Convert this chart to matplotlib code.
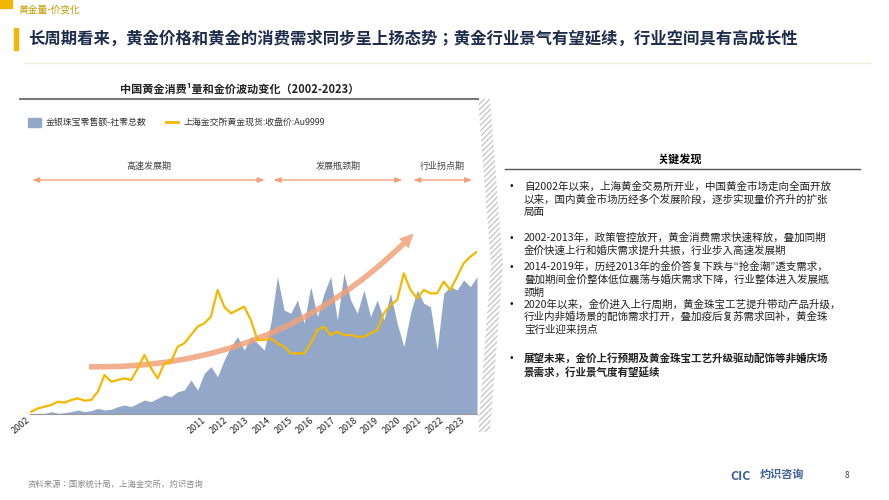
import matplotlib.pyplot as plt
from matplotlib.patches import FancyArrowPatch, Polygon, Rectangle
from matplotlib.lines import Line2D

plt.rcParams["font.family"] = ["Noto Sans CJK JP", "DejaVu Sans"]

# samples are evenly spaced along the chart's x axis (non-linear in time, as in the source)
gold_price = [7, 17, 22, 27, 37, 34, 42, 47, 40, 42, 67, 117, 97, 102, 107, 102, 137, 177,
              137, 107, 152, 157, 202, 212, 237, 262, 272, 292, 372, 322, 302, 312, 322, 282,
              222, 222, 227, 212, 202, 182, 182, 182, 212, 252, 262, 237, 247, 237, 237, 232,
              232, 242, 252, 302, 327, 342, 422, 372, 347, 372, 362, 362, 397, 372, 412, 452,
              472, 487]
jewelry_sales = [0, 2, 2, 7, 2, 4, 7, 12, 7, 10, 17, 12, 14, 22, 27, 22, 32, 42, 37, 47, 57,
                 52, 67, 72, 102, 72, 122, 142, 112, 162, 202, 232, 192, 232, 212, 192, 272,
                 412, 312, 302, 342, 272, 382, 292, 362, 412, 282, 422, 342, 302, 372, 292,
                 342, 282, 362, 272, 202, 302, 372, 332, 322, 192, 362, 382, 372, 402, 382, 412]
year_labels = ["2002", "2011", "2012", "2013", "2014", "2015", "2016", "2017", "2018",
               "2019", "2020", "2021", "2022", "2023"]
year_pos = [0, 26.5, 29.75, 33, 36.25, 39.5, 42.75, 46, 49.25, 52.5, 55.75, 59, 62.25, 65.5]

periods = ["高速发展期", "发展瓶颈期", "行业拐点期"]
period_span = [(-0.3, 35.5), (36.0, 56.2), (57.0, 66.7)]

bullets = [
    ("自2002年以来，上海黄金交易所开业，中国黄金市场走向全面开放\n以来，国内黄金市场历经多个发展阶段，逐步实现量价齐升的扩张\n局面", 181, "normal"),
    ("2002-2013年，政策管控放开，黄金消费需求快速释放，叠加同期\n金价快速上行和婚庆需求提升共振，行业步入高速发展期", 233, "normal"),
    ("2014-2019年，历经2013年的金价答复下跌与“抢金潮”透支需求，\n叠加期间金价整体低位震荡与婚庆需求下降，行业整体进入发展瓶\n颈期", 262, "normal"),
    ("2020年以来，金价进入上行周期，黄金珠宝工艺提升带动产品升级，\n行业内非婚场景的配饰需求打开，叠加疫后复苏需求回补，黄金珠\n宝行业迎来拐点", 299, "normal"),
    ("展望未来，金价上行预期及黄金珠宝工艺升级驱动配饰等非婚庆场\n景需求，行业景气度有望延续", 353, "bold"),
]

W, H = 889, 500
fig = plt.figure(figsize=(W / 100, H / 100), dpi=100)


def fx(px):
    return px / W


def fy(py):
    return 1 - py / H


# header
fig.patches.append(Rectangle((0, fy(8)), fx(12), 8 / H, transform=fig.transFigure, color="#f2b705"))
fig.text(fx(18), fy(10), "黄金量-价变化", fontsize=7, color="#c89a00", va="center")
fig.patches.append(Rectangle((fx(14), fy(50)), fx(4), 22 / H, transform=fig.transFigure, color="#f2b705"))
fig.text(fx(28), fy(39), "长周期看来，黄金价格和黄金的消费需求同步呈上扬态势；黄金行业景气有望延续，行业空间具有高成长性",
         fontsize=11.8, fontweight="bold", color="#1f2d4d", va="center")
fig.add_artist(Line2D([fx(24), fx(870)], [fy(63), fy(63)], color="#eeeedd", lw=1))

# chart title & rule
fig.text(fx(240), fy(89), "中国黄金消费¹量和金价波动变化（2002-2023）", fontsize=8, fontweight="bold",
         ha="center", va="center", color="#222222")
fig.add_artist(Line2D([fx(20), fx(478)], [fy(99), fy(99)], color="#777777", lw=1.5))

# hatched chevron
fig.patches.append(Polygon([(fx(478), fy(99)), (fx(490), fy(99)), (fx(503), fy(265)),
                            (fx(490), fy(432)), (fx(478), fy(432)), (fx(491), fy(265))],
                           transform=fig.transFigure, facecolor="white", edgecolor="#c8c8c8",
                           hatch="//////", lw=0))

ax = fig.add_axes([fx(30), 86 / H, fx(447), 234 / H])
x = list(range(len(gold_price)))
ax.fill_between(x, jewelry_sales, color="#93a8c9", lw=0, label="金银珠宝零售额-社零总数")
ax.plot(x, gold_price, color="#f5b800", lw=1.6, label="上海金交所黄金现货:收盘价:Au9999")
ax.set_xlim(-0.2, len(x) - 1)
ax.set_ylim(0, 702)
ax.set_xticks(year_pos)
ax.set_xticklabels(year_labels, rotation=40, ha="right", fontsize=6.5, color="#222222")
ax.tick_params(length=0, pad=1)
ax.set_yticks([])
for s in ["top", "right", "left"]:
    ax.spines[s].set_visible(False)
ax.spines["bottom"].set_color("#999999")

arrow = FancyArrowPatch((8.25, 142), (57.75, 547), connectionstyle="arc3,rad=0.22",
                        arrowstyle="simple,head_width=10,head_length=10,tail_width=4",
                        color="#f0a27a", alpha=0.85, lw=0)
ax.add_patch(arrow)

# legend
fig.patches.append(Rectangle((fx(28), fy(127)), fx(13), 9 / H, transform=fig.transFigure, color="#93a8c9"))
fig.text(fx(46), fy(122), "金银珠宝零售额-社零总数", fontsize=6.4, va="center", color="#333333")
fig.add_artist(Line2D([fx(166), fx(178)], [fy(122), fy(122)], color="#f5b800", lw=2))
fig.text(fx(183), fy(122), "上海金交所黄金现货:收盘价:Au9999", fontsize=6.4, va="center", color="#333333")

# period arrows
for name, (a, b) in zip(periods, period_span):
    ax.annotate("", xy=(b, 1.0), xytext=(a, 1.0), xycoords=("data", "axes fraction"),
                annotation_clip=False,
                arrowprops=dict(arrowstyle="<|-|>,head_width=0.15,head_length=0.4", color="#f0a27a", lw=1))
    ax.text((a + b) / 2, 1.04, name, transform=ax.get_xaxis_transform(), fontsize=6.5,
            ha="center", va="bottom", color="#444444")

# right panel
fig.text(fx(680), fy(159), "关键发现", fontsize=8, fontweight="bold", ha="center", va="center")
fig.add_artist(Line2D([fx(505), fx(860)], [fy(169), fy(169)], color="#555555", lw=1))
for txt, ypos, wt in bullets:
    fig.text(fx(510), fy(ypos), "•", fontsize=7.5, va="top")
    fig.text(fx(524), fy(ypos), txt, fontsize=7.6, va="top", fontweight=wt, linespacing=1.3, color="#222222")

# footer
fig.text(fx(28), fy(484), "资料来源：国家统计局，上海金交所，灼识咨询", fontsize=6, color="#888888", va="center")
fig.text(fx(730), fy(476), "CIC", fontsize=9, fontweight="bold", color="#3a5f9a", va="center")
fig.text(fx(760), fy(474), "灼识咨询", fontsize=8, fontweight="bold", color="#3a5f9a", va="center")
fig.text(fx(845), fy(476), "8", fontsize=6, color="#444444", va="center")

fig.savefig("out.png", dpi=100)
